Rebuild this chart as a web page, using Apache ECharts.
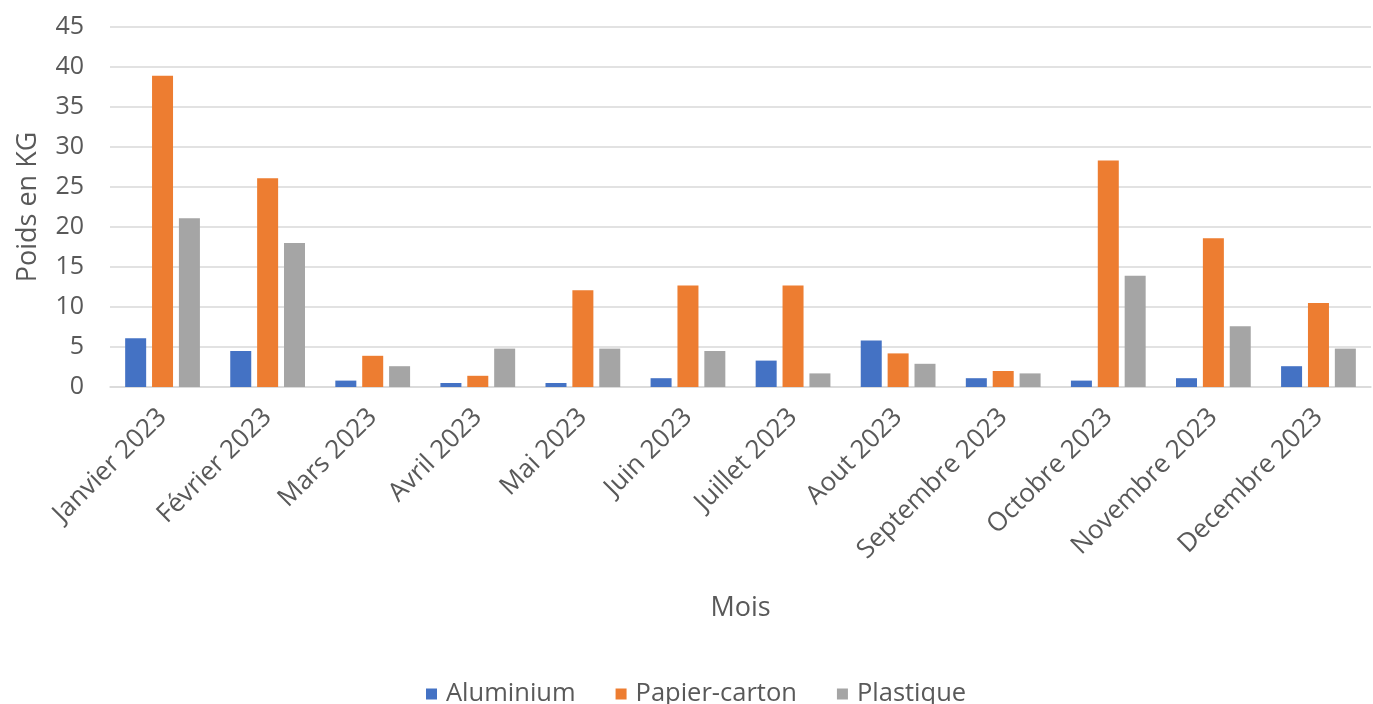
<!DOCTYPE html>
<html>
<head>
<meta charset="utf-8">
<script src="https://cdn.jsdelivr.net/npm/echarts@6/dist/echarts.min.js"></script>
<style>html,body{margin:0;padding:0;background:#fff}#c{width:1373px;height:704px}</style>
</head>
<body>
<div id="c"></div>
<script>
const categories = ['Janvier 2023','Février 2023','Mars 2023','Avril 2023','Mai 2023','Juin 2023','Juillet 2023','Aout 2023','Septembre 2023','Octobre 2023','Novembre 2023','Decembre 2023'];
const aluminium = [6.1, 4.5, 0.8, 0.5, 0.5, 1.1, 3.3, 5.8, 1.1, 0.8, 1.1, 2.6];
const papierCarton = [38.9, 26.1, 3.9, 1.4, 12.1, 12.7, 12.7, 4.2, 2.0, 28.3, 18.6, 10.5];
const plastique = [21.1, 18.0, 2.6, 4.8, 4.8, 4.5, 1.7, 2.9, 1.7, 13.9, 7.6, 4.8];
const yTicks = [0, 5, 10, 15, 20, 25, 30, 35, 40, 45];

const font = '"Open Sans", "Noto Sans", sans-serif';
const txt = '#595959';
const chart = echarts.init(document.getElementById('c'));
chart.setOption({
  backgroundColor: '#fff',
  animation: false,
  textStyle: { fontFamily: font, color: txt },
  grid: { left: 110, right: 2, top: 27, bottom: 317, containLabel: false },
  legend: {
    data: ['Aluminium', 'Papier-carton', 'Plastique'],
    left: 421, top: 676,
    itemWidth: 11, itemHeight: 11, itemGap: 40,
    icon: 'rect',
    textStyle: { fontFamily: font, fontSize: 25.5, color: txt, padding: [0, 0, 0, 4] }
  },
  xAxis: {
    type: 'category',
    data: categories,
    name: 'Mois',
    nameLocation: 'middle',
    nameGap: 208,
    nameTextStyle: { fontFamily: font, fontSize: 27, color: txt },
    axisLine: { lineStyle: { color: '#d9d9d9', width: 1.5 } },
    axisTick: { show: false },
    axisLabel: { rotate: 45, fontFamily: font, fontSize: 26, color: txt, margin: 26, interval: 0 }
  },
  yAxis: {
    type: 'value',
    min: yTicks[0], max: yTicks[yTicks.length - 1], interval: 5,
    name: 'Poids en KG',
    nameLocation: 'middle',
    nameGap: 68,
    nameTextStyle: { fontFamily: font, fontSize: 27, color: txt },
    axisLine: { show: false },
    axisTick: { show: false },
    axisLabel: { fontFamily: font, fontSize: 25, color: txt, margin: 26 },
    splitLine: { lineStyle: { color: '#d9d9d9', width: 1.5 } }
  },
  series: [
    { name: 'Aluminium', type: 'bar', data: aluminium, itemStyle: { color: '#4472C4' }, barWidth: 21, barGap: '28%' },
    { name: 'Papier-carton', type: 'bar', data: papierCarton, itemStyle: { color: '#ED7D31' }, barWidth: 21, barGap: '28%' },
    { name: 'Plastique', type: 'bar', data: plastique, itemStyle: { color: '#A5A5A5' }, barWidth: 21, barGap: '28%' }
  ]
});
</script>
</body>
</html>
